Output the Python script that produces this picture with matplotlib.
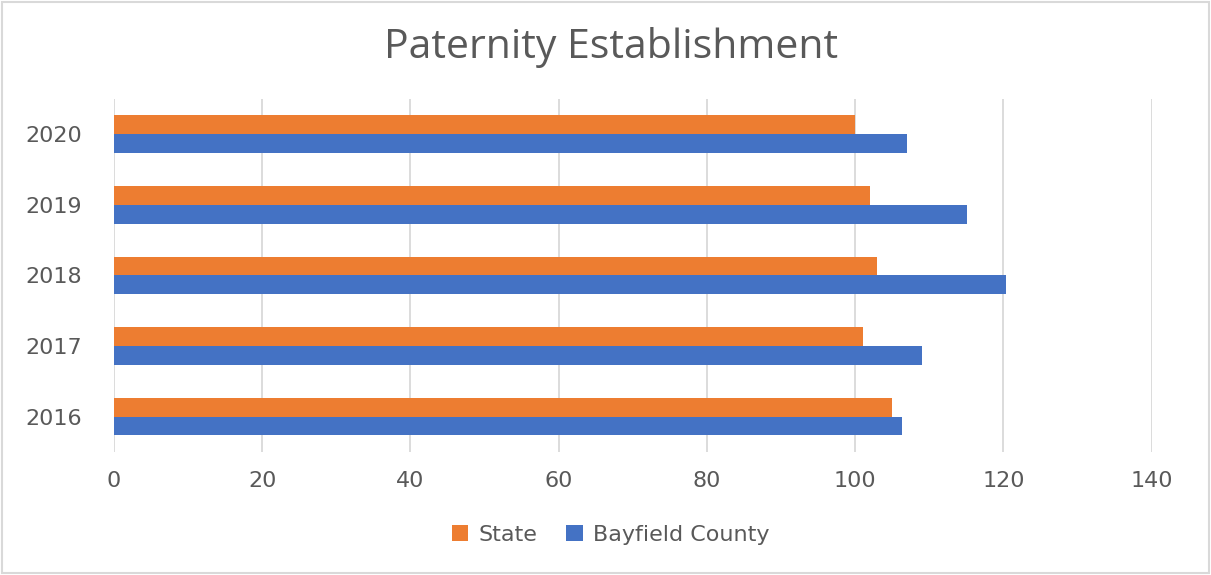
import matplotlib.pyplot as plt
import numpy as np
from matplotlib.patches import Rectangle

years = ["2016", "2017", "2018", "2019", "2020"]
state = [105, 101, 103, 102, 100]
bayfield = [106.3, 109, 120.4, 115.1, 107]

ORANGE = "#ed7d31"
BLUE = "#4472c4"
TEXT = "#595959"


def graph():
    fig = plt.figure(figsize=(12.11, 5.75), dpi=100)
    ax = fig.add_axes([0.094, 0.214, 0.857, 0.614])

    y = np.arange(len(years))
    h = 0.265
    ax.barh(y + h / 2, state, height=h, color=ORANGE, label="State", zorder=3)
    ax.barh(y - h / 2, bayfield, height=h, color=BLUE, label="Bayfield County", zorder=3)

    ax.set_xlim(0, 140)
    ax.set_ylim(-0.5, len(years) - 0.5)
    ax.set_xticks(range(0, 141, 20))
    ax.set_yticks(y)
    ax.set_yticklabels(years)
    ax.grid(axis="x", color="#d9d9d9", linewidth=1.3, zorder=0)
    for s in ax.spines.values():
        s.set_visible(False)
    ax.tick_params(axis="both", length=0, labelsize=16, colors=TEXT)
    ax.tick_params(axis="x", pad=14)
    ax.tick_params(axis="y", pad=23)

    fig.text(0.505, 0.917, "Paternity Establishment", ha="center", va="center",
             fontsize=29.5, color=TEXT, family="Open Sans")

    fig.legend(loc="center", bbox_to_anchor=(0.504, 0.07), ncol=2, frameon=False,
               fontsize=16, labelcolor=TEXT, handlelength=0.75, handleheight=0.75,
               columnspacing=1.3, handletextpad=0.45)

    fig.patches.append(Rectangle((0.002, 0.003), 0.996, 0.994, transform=fig.transFigure,
                                 fill=False, edgecolor="#d9d9d9", linewidth=1.5))

    fig.savefig("out.png", dpi=100)


def main():
    graph()


if __name__ == "__main__":
    main()
